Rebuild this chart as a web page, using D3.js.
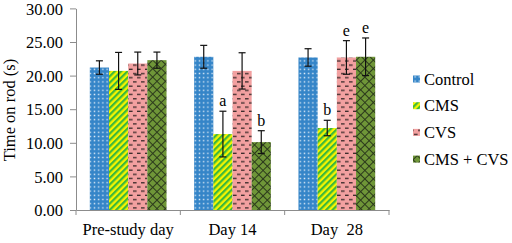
<!DOCTYPE html>
<html><head><meta charset="utf-8">
<script src="https://cdn.jsdelivr.net/npm/d3@7"></script>
<style>body{margin:0;background:#fff}svg{display:block}svg text{font-family:"Liberation Serif","Times New Roman",serif !important}</style>
</head><body>
<svg id="c" width="512" height="243" font-family="Liberation Serif, serif"></svg>
<script>
const categories = ["Pre-study day", "Day 14", "Day  28"];
const series = ["Control", "CMS", "CVS", "CMS + CVS"];
const control = [21.2, 22.8, 22.7];
const cms = [20.7, 11.3, 12.2];
const cvs = [21.8, 20.7, 22.7];
const cmsCvs = [22.3, 10.1, 22.8];
const controlErr = [1.0, 1.7, 1.3];
const cmsErr = [2.75, 3.4, 1.15];
const cvsErr = [1.7, 2.7, 2.5];
const cmsCvsErr = [1.2, 1.7, 2.8];
const sigLabels = [["", "", "", ""], ["", "a", "", "b"], ["", "b", "e", "e"]];
const yTicks = [0, 5, 10, 15, 20, 25, 30];

const values = [control, cms, cvs, cmsCvs];
const errs = [controlErr, cmsErr, cvsErr, cmsCvsErr];
const data = [];
categories.forEach((c, ci) => series.forEach((s, si) => data.push({c, s, si, v: values[si][ci], e: errs[si][ci], lab: sigLabels[ci][si]})));

const FONT = "Liberation Serif, Times New Roman, serif";
const svg = d3.select("#c");
const defs = svg.append("defs");
// Control: blue with white dots
let p = defs.append("pattern").attr("id", "p0").attr("patternUnits", "userSpaceOnUse").attr("width", 4.2).attr("height", 4.2);
p.append("rect").attr("width", 4.2).attr("height", 4.2).attr("fill", "#3585c8");
p.append("rect").attr("x", 1.4).attr("y", 1.4).attr("width", 1.4).attr("height", 1.4).attr("fill", "#dbe9f6");
// CMS: yellow/green diagonal stripes
p = defs.append("pattern").attr("id", "p1").attr("patternUnits", "userSpaceOnUse").attr("width", 4.5).attr("height", 4.5).attr("patternTransform", "rotate(45)");
p.append("rect").attr("width", 4.5).attr("height", 4.5).attr("fill", "#f5f500");
p.append("rect").attr("width", 2.2).attr("height", 4.5).attr("fill", "#3cb83c");
// CVS: pink with dark dashes
p = defs.append("pattern").attr("id", "p2").attr("patternUnits", "userSpaceOnUse").attr("width", 8).attr("height", 8.4);
p.append("rect").attr("width", 8).attr("height", 8.4).attr("fill", "#f2a0a0");
p.append("rect").attr("x", 1).attr("y", 1.5).attr("width", 3.6).attr("height", 1.3).attr("fill", "#3a2a2a");
p.append("rect").attr("x", 5).attr("y", 5.7).attr("width", 3.6).attr("height", 1.3).attr("fill", "#3a2a2a");
p.append("rect").attr("x", -3).attr("y", 5.7).attr("width", 3.6).attr("height", 1.3).attr("fill", "#3a2a2a");
// CMS + CVS: olive with crosshatch
p = defs.append("pattern").attr("id", "p3").attr("patternUnits", "userSpaceOnUse").attr("width", 6).attr("height", 6).attr("patternTransform", "rotate(45)");
p.append("rect").attr("width", 6).attr("height", 6).attr("fill", "#6f9638");
p.append("rect").attr("width", 1).attr("height", 6).attr("fill", "#2c3a1c");
p.append("rect").attr("width", 6).attr("height", 1).attr("fill", "#2c3a1c");

const x0 = d3.scaleBand().domain(categories).range([76, 389]).paddingInner(0).paddingOuter(0);
const x1 = d3.scaleBand().domain(series).range([0, x0.bandwidth()]).paddingInner(0).paddingOuter(0.72);
const y = d3.scaleLinear().domain([0, 30]).range([210, 8.4]);

// y axis
const ya = svg.append("g").attr("transform", "translate(76,0)")
  .call(d3.axisLeft(y).tickValues(yTicks).tickFormat(d3.format(".2f")).tickSize(6).tickSizeOuter(0))
  .attr("font-family", FONT).attr("font-size", 16.5);
ya.select(".domain").attr("stroke", "#8c8c8c");
ya.selectAll(".tick line").attr("stroke", "#8c8c8c");
ya.selectAll(".tick text").attr("fill", "#000").attr("x", -13).attr("dy", "0.34em");

// x axis
const xa = svg.append("g").attr("transform", "translate(0,210)")
  .call(d3.axisBottom(x0).tickSize(0).tickSizeOuter(0))
  .attr("font-family", FONT).attr("font-size", 16.5);
xa.select(".domain").attr("stroke", "#8c8c8c");
xa.selectAll(".tick text").attr("fill", "#000").attr("y", 13).attr("dy", "0.71em")
  .style("white-space", "pre").attr("xml:space", "preserve");
const bounds = [...categories.map(c => x0(c)), x0.range()[1]];
svg.append("g").selectAll("line").data(bounds).join("line")
  .attr("x1", d => d).attr("x2", d => d).attr("y1", 210).attr("y2", 215).attr("stroke", "#8c8c8c");

// bars
svg.append("g").selectAll("rect").data(data).join("rect")
  .attr("x", d => x0(d.c) + x1(d.s)).attr("width", x1.bandwidth())
  .attr("y", d => y(d.v)).attr("height", d => y(0) - y(d.v))
  .attr("fill", d => `url(#p${d.si})`);

// error bars
const eb = svg.append("g").attr("stroke", "#111").attr("stroke-width", 1.2);
data.forEach(d => {
  const cx = x0(d.c) + x1(d.s) + x1.bandwidth() / 2;
  eb.append("line").attr("x1", cx).attr("x2", cx).attr("y1", y(d.v + d.e)).attr("y2", y(d.v - d.e));
  eb.append("line").attr("x1", cx - 3.5).attr("x2", cx + 3.5).attr("y1", y(d.v + d.e)).attr("y2", y(d.v + d.e));
  eb.append("line").attr("x1", cx - 3.5).attr("x2", cx + 3.5).attr("y1", y(d.v - d.e)).attr("y2", y(d.v - d.e));
});
svg.append("g").attr("font-family", FONT).selectAll("text").data(data.filter(d => d.lab)).join("text")
  .attr("x", d => x0(d.c) + x1(d.s) + x1.bandwidth() / 2).attr("y", d => y(d.v + d.e) - 5)
  .attr("text-anchor", "middle").attr("font-size", 16).text(d => d.lab);

// y title
svg.append("text").attr("transform", "translate(15,110) rotate(-90)").attr("text-anchor", "middle")
  .attr("font-family", FONT).attr("font-size", 16.5).text("Time on rod (s)");

// legend
const lg = svg.append("g").attr("font-family", FONT).selectAll("g").data(series).join("g")
  .attr("transform", (d, i) => `translate(413,${79 + i * 26.7})`);
lg.append("rect").attr("x", 0).attr("y", -3.5).attr("width", 7).attr("height", 7).attr("fill", (d, i) => `url(#p${i})`);
lg.append("text").attr("x", 11).attr("dy", "0.35em").attr("font-size", 16.5).text(d => d);
</script>
</body></html>
